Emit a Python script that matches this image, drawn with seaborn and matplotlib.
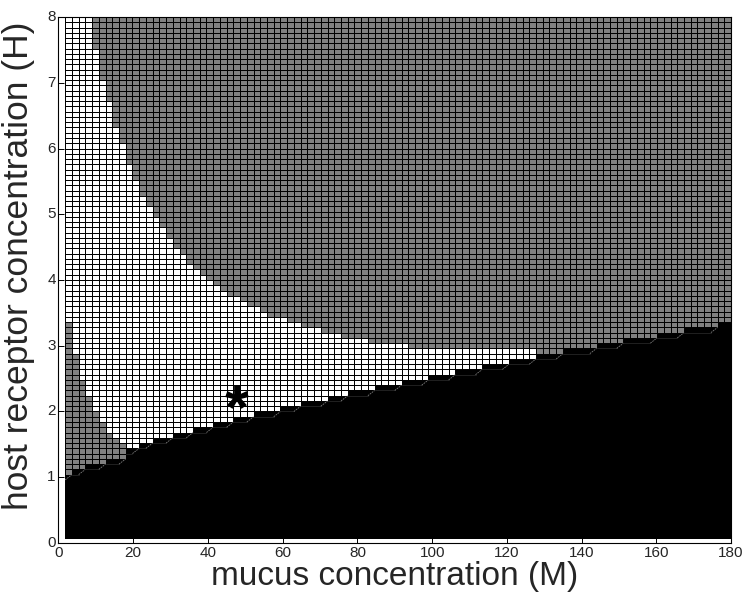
import numpy as np
import pandas as pd
import matplotlib
matplotlib.use('Agg')
import matplotlib.pyplot as plt
import seaborn as sns
from matplotlib.colors import ListedColormap

# cell grid: 99 x 99 cells, M from 1.8 to 180, H from 0.08 to 8
m_step = 1.8
h_step = 0.08
n_cells = 99

# black region: top row index per run of columns
black_run_start = [0, 1, 3, 6, 9, 11, 13, 16, 19, 22, 25, 28, 32, 35, 39, 42, 46, 50,
                   54, 58, 62, 66, 70, 74, 79, 83, 88, 92, 97]
black_run_top = [11, 12, 13, 14, 16, 17, 18, 19, 20, 21, 22, 23, 24, 25, 26, 27, 28, 29,
                 30, 31, 32, 33, 34, 35, 36, 37, 38, 39, 40]

# grey patch at bottom left: top row index for columns 0..8
lower_gray_top = [40, 34, 29, 26, 23, 21, 19, 18, 17]

# grey region at top right: lowest row index per run of columns (99 = none, 0 = down to black)
upper_run_start = [0, 4, 5, 6, 7, 8, 9, 10, 11, 12, 13, 14, 15, 16, 17, 18, 19, 20, 21,
                   22, 23, 24, 26, 27, 29, 30, 33, 35, 38, 41, 45, 51, 70]
upper_run_bottom = [99, 93, 87, 83, 78, 75, 71, 68, 65, 63, 61, 59, 57, 55, 54, 52, 51, 50, 49,
                    48, 47, 46, 45, 44, 43, 42, 41, 40, 39, 38, 37, 36, 0]

x_ticks = [0, 20, 40, 60, 80, 100, 120, 140, 160, 180]
y_ticks = [0, 1, 2, 3, 4, 5, 6, 7, 8]

star_m, star_h = 47.8, 2.0


def to_cell_x(m):
    return m / m_step - 1


def to_cell_y(h):
    return h / h_step - 1


cols = np.arange(n_cells)
rows = np.arange(n_cells)[:, None]
black_top = np.array(black_run_top)[np.searchsorted(black_run_start, cols, side='right') - 1]
upper_bottom = np.array(upper_run_bottom)[np.searchsorted(upper_run_start, cols, side='right') - 1]
low_top = np.full(n_cells, -1)
low_top[:len(lower_gray_top)] = lower_gray_top

state = np.zeros((n_cells, n_cells))
state[rows >= upper_bottom] = 1
state[rows <= low_top] = 1
state[rows <= black_top] = 2
df = pd.DataFrame(state)

sns.set_theme(style='white')
plt.rcParams['font.family'] = ['Liberation Sans Narrow', 'Liberation Sans', 'DejaVu Sans']

fig = plt.figure(figsize=(7.43, 5.99), dpi=100)
ax = fig.add_axes([0.0787, 0.0935, 0.9053, 0.8781])

cmap = ListedColormap(['#ffffff', '#808080', '#000000'])
sns.heatmap(df, cmap=cmap, vmin=0, vmax=2, cbar=False, linewidths=0.6,
            linecolor='black', ax=ax)

# faint contour traces along the top of each black step
for k in range(len(black_run_start) - 1):
    s, nxt, t = black_run_start[k], black_run_start[k + 1], black_run_top[k]
    ax.plot([s, nxt - 1], [t, t], color='#262626', lw=0.6)
    ax.plot([nxt - 1, nxt], [t, t + 1], color='#7a7a7a', lw=0.6, dashes=(2, 1))

ax.set_xlim(to_cell_x(0), to_cell_x(180))
ax.set_ylim(to_cell_y(0), to_cell_y(8))
ax.set_xticks([to_cell_x(v) for v in x_ticks], [str(v) for v in x_ticks], rotation=0)
ax.set_yticks([to_cell_y(v) for v in y_ticks], [str(v) for v in y_ticks], rotation=0)
ax.tick_params(direction='in', length=4.5, width=0.7, labelsize=11, color='black',
               bottom=True, left=True, pad=2)

for sp in ax.spines.values():
    sp.set_visible(True)
    sp.set_color('black')
    sp.set_linewidth(0.8)

ax.text(to_cell_x(star_m), to_cell_y(star_h), '*', fontsize=44, fontweight='bold',
        ha='center', va='center', color='black', family=['Liberation Sans', 'DejaVu Sans'])

ax.set_xlabel('mucus concentration (M)', fontsize=24, labelpad=1)
ax.set_ylabel('host receptor concentration (H)', fontsize=25.5)
ax.yaxis.set_label_coords(-0.035, 0.527)

fig.savefig('out.png', dpi=100)
